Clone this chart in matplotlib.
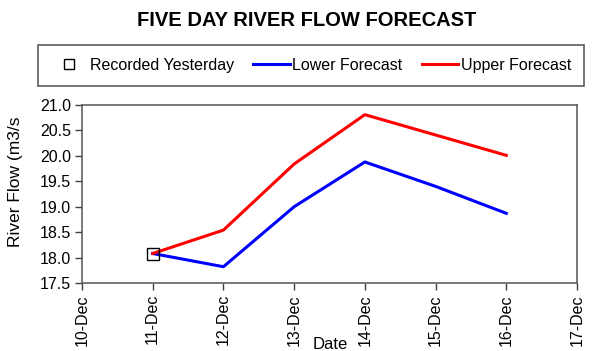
import matplotlib
matplotlib.use('Agg')
import matplotlib.pyplot as plt
import matplotlib.dates as mdates
from datetime import date

plt.rcParams['font.family'] = ['Liberation Sans', 'DejaVu Sans']

# forecast data
days = [date(2009, 12, d) for d in [11, 12, 13, 14, 15, 16]]
lower = [18.08, 17.82, 19.0, 19.88, 19.4, 18.87]
upper = [18.08, 18.54, 19.84, 20.81, 20.41, 20.01]
recorded_day = [date(2009, 12, 11)]
recorded = [18.08]
tick_days = [date(2009, 12, d) for d in range(10, 18)]
y_ticks = [17.5, 18.0, 18.5, 19.0, 19.5, 20.0, 20.5, 21.0]

W, H = 597, 351
fig = plt.figure(figsize=(W / 100, H / 100), dpi=100)
ax = fig.add_axes([82 / W, 1 - 283 / H, (577 - 82) / W, (283 - 105) / H])

ax.plot(recorded_day, recorded, 's', markersize=8.6, markerfacecolor='none',
        markeredgecolor='black', markeredgewidth=1, label='Recorded Yesterday', zorder=3)
ax.plot(days, lower, color='#0000ff', linewidth=2.2, label='Lower Forecast')
ax.plot(days, upper, color='#ff0000', linewidth=2.2, label='Upper Forecast')

ax.set_xlim(tick_days[0], tick_days[-1])
ax.set_xticks(tick_days)
ax.xaxis.set_major_formatter(mdates.DateFormatter('%-d-%b'))
ax.set_ylim(y_ticks[0], y_ticks[-1])
ax.set_yticks(y_ticks)
ax.yaxis.set_major_formatter(plt.FormatStrFormatter('%.1f'))
ax.tick_params(axis='both', labelsize=11.5, direction='out', length=5, width=1,
               color='#404040', pad=3)
ax.tick_params(axis='x', rotation=90)
for s in ax.spines.values():
    s.set_color('#555555')
    s.set_linewidth(1.1)

fig.text(16 / W, 1 - 182 / H, 'River Flow (m3/s', rotation=90, fontsize=12.5,
         ha='center', va='center')
fig.text(330 / W, 1 - 337 / H, 'Date', fontsize=12, ha='center', va='top')

fig.text(307 / W, 1 - 20 / H, 'FIVE DAY RIVER FLOW FORECAST', fontsize=14.5,
         fontweight='bold', ha='center', va='center')

leg = fig.legend(loc='upper left', bbox_to_anchor=(38 / W, 1 - 45 / H), ncol=3,
                 fontsize=11.5, frameon=True, fancybox=False, edgecolor='#333333',
                 handlelength=2.3, handletextpad=0.15, columnspacing=1.2,
                 borderpad=0.8, borderaxespad=0, markerscale=0.8)
leg.get_frame().set_linewidth(1.2)

fig.savefig('out.png', dpi=100)
